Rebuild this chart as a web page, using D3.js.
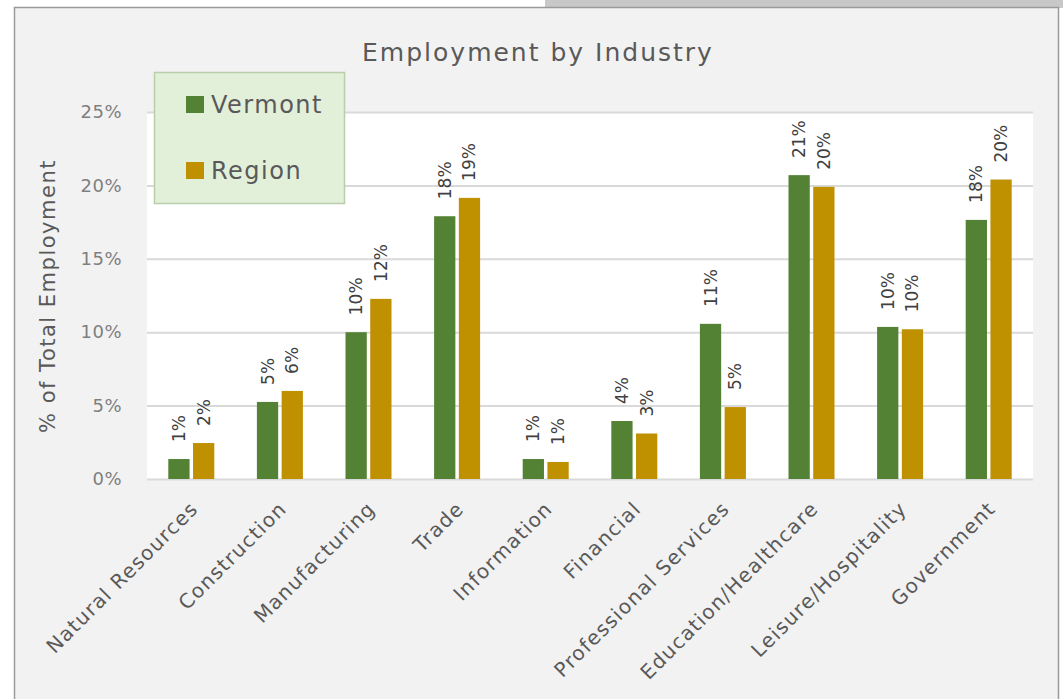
<!DOCTYPE html>
<meta charset="utf-8">
<title>Employment by Industry</title>
<style>
    body { margin: 0; background: #fff; }
    .tick text { font: 18px "DejaVu Sans", sans-serif; fill: #7f7f7f; letter-spacing: 0.5px; }
    .cat text { font: 20px "DejaVu Sans", sans-serif; fill: #595959; letter-spacing: 1.3px; }
    .val { font: 17px "DejaVu Sans", sans-serif; fill: #404040; }
</style>
<svg width="1063" height="699"></svg>
<script src="https://d3js.org/d3.v7.min.js"></script>
<script>

    // chart data
    var categories = ["Natural Resources", "Construction", "Manufacturing", "Trade", "Information",
        "Financial", "Professional Services", "Education/Healthcare", "Leisure/Hospitality", "Government"];
    var series = ["Vermont", "Region"];
    var vermont = [0.0136, 0.0525, 0.100, 0.179, 0.0136, 0.0395, 0.1057, 0.207, 0.1036, 0.1765];
    var region = [0.0245, 0.060, 0.1227, 0.1915, 0.0116, 0.031, 0.049, 0.199, 0.102, 0.204];
    var yTicks = [0, 0.05, 0.10, 0.15, 0.20, 0.25];

    var colors = {Vermont: "#548235", Region: "#bf9000"};

    var svg = d3.select("svg");

    // page bits around the chart panel
    svg.append("rect").attr("x", 545).attr("y", 0).attr("width", 518).attr("height", 8).attr("fill", "#c8c8c8");
    svg.append("rect").attr("x", 14.5).attr("y", 7.5).attr("width", 1044).attr("height", 700)
        .attr("fill", "#f2f2f2").attr("stroke", "#9a9a9a").attr("stroke-width", 1.5);

    var plotL = 147, plotR = 1033, plotT = 112, plotB = 479;

    var x0 = d3.scaleBand().domain(categories).range([plotL, plotR]);
    var x1 = d3.scaleBand().domain(series)
        .range([x0.bandwidth() / 2 - 23, x0.bandwidth() / 2 + 23])
        .paddingInner(0.14);
    var y = d3.scaleLinear().domain([0, 0.25]).range([plotB, plotT]);

    // plot area
    svg.append("rect").attr("x", plotL).attr("y", plotT).attr("width", plotR - plotL).attr("height", plotB - plotT)
        .attr("fill", "#fff");

    var yAxis = svg.append("g")
        .attr("transform", "translate(" + plotL + ",0)")
        .call(d3.axisLeft(y).tickValues(yTicks).tickFormat(d3.format(".0%")).tickSize(-(plotR - plotL)).tickPadding(25));
    yAxis.select(".domain").remove();
    yAxis.selectAll(".tick line").attr("stroke", "#d9d9d9").attr("stroke-width", 2);

    // title
    svg.append("text").attr("x", 538).attr("y", 61).attr("text-anchor", "middle")
        .style("font", "25px 'DejaVu Sans', sans-serif").style("letter-spacing", "2px").attr("fill", "#595959")
        .text("Employment by Industry");

    // y axis title
    svg.append("text").attr("transform", "translate(55,296) rotate(-90)").attr("text-anchor", "middle")
        .style("font", "21px 'DejaVu Sans', sans-serif").style("letter-spacing", "1.5px").attr("fill", "#595959")
        .text("% of Total Employment");

    // bars
    var rows = categories.map(function(c, i) {
        return {cat: c, values: [{key: "Vermont", value: vermont[i]}, {key: "Region", value: region[i]}]};
    });

    var group = svg.selectAll(".group")
        .data(rows)
        .enter().append("g")
            .attr("class", "group")
            .attr("transform", function(d) { return "translate(" + x0(d.cat) + ",0)"; });

    group.selectAll("rect")
        .data(function(d) { return d.values; })
        .enter().append("rect")
            .attr("x", function(d) { return x1(d.key); })
            .attr("y", function(d) { return y(d.value); })
            .attr("width", x1.bandwidth())
            .attr("height", function(d) { return plotB - y(d.value); })
            .attr("fill", function(d) { return colors[d.key]; });

    group.selectAll(".val")
        .data(function(d) { return d.values; })
        .enter().append("text")
            .attr("class", "val")
            .attr("transform", function(d) {
                return "translate(" + (x1(d.key) + x1.bandwidth() / 2 + 6) + "," + (y(d.value) - 17) + ") rotate(-90)";
            })
            .text(function(d) { return Math.round(d.value * 100) + "%"; });

    // category labels
    var cat = svg.append("g").attr("class", "cat");
    cat.selectAll("text")
        .data(categories)
        .enter().append("text")
            .attr("text-anchor", "end")
            .attr("transform", function(d) {
                return "translate(" + (x0(d) + x0.bandwidth() / 2 + 8) + ",510) rotate(-45)";
            })
            .text(function(d) { return d; });

    // legend
    var legend = svg.append("g");
    legend.append("rect").attr("x", 154.5).attr("y", 72.5).attr("width", 190).attr("height", 131)
        .attr("fill", "#e2efd9").attr("stroke", "#b9cfab").attr("stroke-width", 1.5);
    var item = legend.selectAll(".item")
        .data(series)
        .enter().append("g")
            .attr("transform", function(d, i) { return "translate(186," + (96 + i * 66) + ")"; });
    item.append("rect").attr("width", 18).attr("height", 17).attr("fill", function(d) { return colors[d]; });
    item.append("text").attr("x", 25).attr("y", 17)
        .style("font", "24px 'DejaVu Sans', sans-serif").style("letter-spacing", "1.5px").attr("fill", "#595959")
        .text(function(d) { return d; });

</script>
